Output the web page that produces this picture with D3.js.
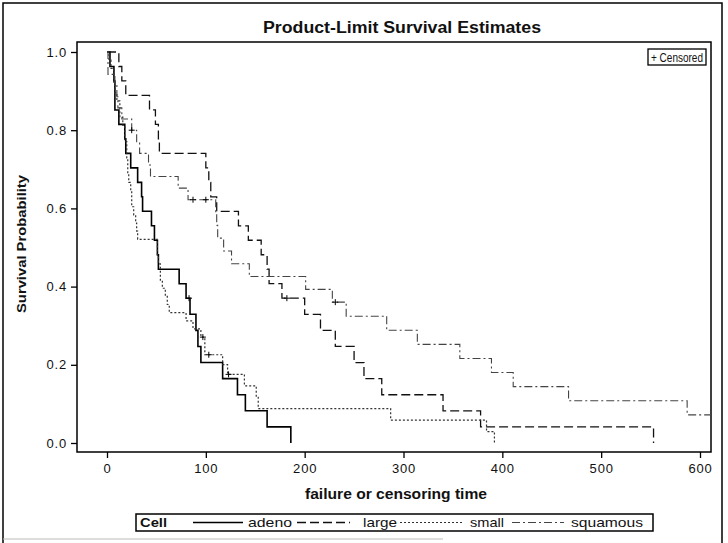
<!DOCTYPE html>
<html>
<head>
<meta charset="utf-8">
<script src="https://cdn.jsdelivr.net/npm/d3@7"></script>
<style>
  body { margin: 0; background: #fff; }
  text { font-family: "Liberation Sans", Arial, sans-serif; fill: #111; }
</style>
</head>
<body>
<div class="canvas"></div>
<script>
// survival times per cell type (events and censored observations)
var cells = ["adeno", "large", "small", "squamous"];
var adenoEvents = [3,7,8,8,12,18,19,24,31,35,36,45,48,51,52,73,80,84,90,92,95,117,132,140,162,186];
var adenoCensored = [83];
var largeEvents = [12,15,19,43,49,52,53,100,103,105,111,133,143,156,162,164,177,200,216,231,250,260,278,340,378,553];
var largeCensored = [182];
var smallEvents = [2,4,7,7,8,10,13,13,16,18,18,20,20,21,21,22,24,25,25,27,29,30,31,51,51,52,54,54,56,59,61,63,80,87,95,99,99,117,122,139,151,153,287,384,392];
var smallCensored = [97,103,123];
var squamousEvents = [1,1,8,10,11,15,25,30,33,42,44,72,82,110,111,112,118,126,144,201,228,242,283,314,357,389,411,467,587,991,999];
var squamousCensored = [25,87,100,231];

var xTicks = [0,100,200,300,400,500,600];
var yTicks = [0,0.2,0.4,0.6,0.8,1.0];

var groups = {
    adeno:    {events: adenoEvents,    censored: adenoCensored},
    large:    {events: largeEvents,    censored: largeCensored},
    small:    {events: smallEvents,    censored: smallCensored},
    squamous: {events: squamousEvents, censored: squamousCensored}
};
var styles = {
    adeno:    {dash: null,      width: 1.6, color: "#000"},
    large:    {dash: "9,4",     width: 1.3, color: "#111"},
    small:    {dash: "2,2",     width: 1.2, color: "#333"},
    squamous: {dash: "8,3,2,3", width: 1.1, color: "#444"}
};

function kaplanMeier(events, censored) {
    var times = Array.from(new Set(events.concat(censored))).sort(function (a, b) { return a - b; });
    var n = events.length + censored.length, s = 1;
    var steps = [[0, 1]], marks = [];
    times.forEach(function (t) {
        var d = events.filter(function (e) { return e === t; }).length;
        var c = censored.filter(function (e) { return e === t; }).length;
        if (d > 0) {
            s = s * (n - d) / n;
            steps.push([t, s]);
        }
        if (c > 0) marks.push([t, s]);
        n -= d + c;
    });
    var last = times[times.length - 1];
    if (steps[steps.length - 1][0] < last) steps.push([last, s]);
    return {steps: steps, marks: marks};
}

var width = 728, height = 543;
var frame = {left: 77, right: 711, top: 42, bottom: 452};

var svg = d3.select(".canvas").append("svg")
        .attr("width", width)
        .attr("height", height);

var x = d3.scaleLinear().domain([0, 600]).range([107, 700]);
var y = d3.scaleLinear().domain([0, 1]).range([443, 52]);

// page border
svg.append("path")
   .attr("d", "M3,545 V3 H722 V545")
   .attr("fill", "none")
   .attr("stroke", "#000")
   .attr("stroke-width", 1.5);
svg.append("line")
   .attr("x1", 3).attr("x2", 443).attr("y1", 539).attr("y2", 539)
   .attr("stroke", "#bbb");

svg.append("text")
   .attr("x", 402).attr("y", 33)
   .attr("text-anchor", "middle")
   .attr("textLength", 278).attr("lengthAdjust", "spacingAndGlyphs")
   .style("font-size", "16px").style("font-weight", "bold")
   .text("Product-Limit Survival Estimates");

svg.append("defs").append("clipPath").attr("id", "clip")
   .append("rect")
   .attr("x", frame.left).attr("y", frame.top)
   .attr("width", frame.right - frame.left)
   .attr("height", frame.bottom - frame.top);

svg.append("rect")
   .attr("x", frame.left).attr("y", frame.top)
   .attr("width", frame.right - frame.left)
   .attr("height", frame.bottom - frame.top)
   .attr("fill", "none")
   .attr("stroke", "#000")
   .attr("stroke-width", 1.5);

// axes
var xAxis = svg.append("g")
   .attr("transform", "translate(0," + frame.bottom + ")")
   .call(d3.axisBottom(x).tickValues(xTicks).tickSize(6).tickPadding(6).tickFormat(d3.format("d")));
var yAxis = svg.append("g")
   .attr("transform", "translate(" + frame.left + ",0)")
   .call(d3.axisLeft(y).tickValues(yTicks).tickSize(6).tickPadding(4).tickFormat(d3.format(".1f")));
[xAxis, yAxis].forEach(function (g) {
    g.select(".domain").remove();
    g.selectAll("line").attr("stroke", "#000").attr("stroke-width", 1.3);
    g.selectAll("text")
     .style("font-size", "13px")
     .style("letter-spacing", "0.8px")
     .style("font-family", "'Liberation Sans', Arial, sans-serif")
     .attr("fill", "#111");
});

svg.append("text")
   .attr("x", 396).attr("y", 499)
   .attr("text-anchor", "middle")
   .attr("textLength", 182).attr("lengthAdjust", "spacingAndGlyphs")
   .style("font-size", "14px").style("font-weight", "bold")
   .text("failure or censoring time");

svg.append("text")
   .attr("transform", "translate(26,244) rotate(-90)")
   .attr("text-anchor", "middle")
   .attr("textLength", 138).attr("lengthAdjust", "spacingAndGlyphs")
   .style("font-size", "13px").style("font-weight", "bold")
   .text("Survival Probability");

// curves
var line = d3.line()
    .x(function (d) { return x(d[0]); })
    .y(function (d) { return y(d[1]); })
    .curve(d3.curveStepAfter);

var plot = svg.append("g").attr("clip-path", "url(#clip)");
cells.forEach(function (cell) {
    var km = kaplanMeier(groups[cell].events, groups[cell].censored);
    var st = styles[cell];
    plot.append("path")
        .attr("d", line(km.steps))
        .attr("fill", "none")
        .attr("stroke", st.color)
        .attr("stroke-width", st.width)
        .attr("stroke-dasharray", st.dash);
    km.marks.forEach(function (m) {
        plot.append("path")
            .attr("d", "M" + (x(m[0]) - 3) + "," + y(m[1]) + "h6M" + x(m[0]) + "," + (y(m[1]) - 3) + "v6")
            .attr("stroke", "#000")
            .attr("stroke-width", 1);
    });
});

// censored legend
svg.append("rect")
   .attr("x", 648).attr("y", 49).attr("width", 58).attr("height", 16)
   .attr("fill", "#fff").attr("stroke", "#000").attr("stroke-width", 1.3);
svg.append("text")
   .attr("x", 651).attr("y", 61.5)
   .attr("textLength", 52).attr("lengthAdjust", "spacingAndGlyphs")
   .style("font-size", "12.5px")
   .text("+ Censored");

// cell legend
svg.append("rect")
   .attr("x", 136).attr("y", 514).attr("width", 517).attr("height", 17)
   .attr("fill", "#fff").attr("stroke", "#000").attr("stroke-width", 1.5);
svg.append("text")
   .attr("x", 140).attr("y", 527)
   .attr("textLength", 27).attr("lengthAdjust", "spacingAndGlyphs")
   .style("font-size", "13px").style("font-weight", "bold")
   .text("Cell");
var legendPos = {
    adeno:    {x1: 193, x2: 243, tx: 248, w: 44},
    large:    {x1: 297, x2: 350, tx: 363, w: 34},
    small:    {x1: 400, x2: 462, tx: 470, w: 34},
    squamous: {x1: 512, x2: 564, tx: 571, w: 72}
};
cells.forEach(function (cell) {
    var p = legendPos[cell], st = styles[cell];
    svg.append("line")
       .attr("x1", p.x1).attr("x2", p.x2).attr("y1", 522.5).attr("y2", 522.5)
       .attr("stroke", st.color)
       .attr("stroke-width", st.width)
       .attr("stroke-dasharray", st.dash);
    svg.append("text")
       .attr("x", p.tx).attr("y", 527)
       .attr("textLength", p.w).attr("lengthAdjust", "spacingAndGlyphs")
       .style("font-size", "13px")
       .text(cell);
});
</script>
</body>
</html>
